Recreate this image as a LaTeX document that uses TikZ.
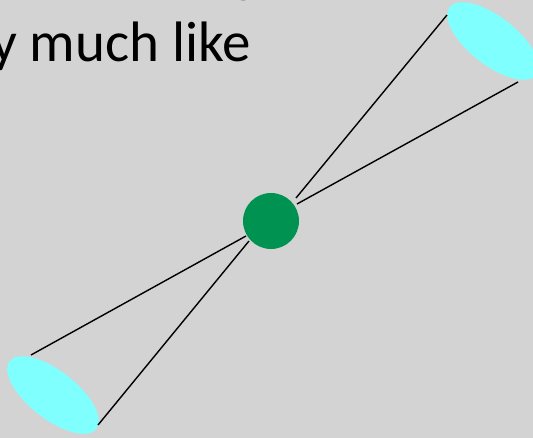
\documentclass[tikz,border=0pt]{standalone}
\usepackage{fontspec}
\setmainfont{Carlito}
\usetikzlibrary{shapes.geometric}
\definecolor{bg}{RGB}{211,211,211}
\definecolor{cyanfill}{RGB}{128,255,255}
\definecolor{hubgreen}{RGB}{0,146,80}
\tikzset{
  lens/.style={ellipse, fill=cyanfill, draw=none, minimum width=110pt, minimum height=48pt, inner sep=0pt, rotate=-38},
  hub/.style={circle, fill=hubgreen, draw=none, minimum size=56pt, inner sep=0pt},
  ray/.style={draw=black, line width=1.4pt},
  txt/.style={font=\fontsize{57}{68}\selectfont, inner sep=0pt, anchor=base west, text=black}
}
\begin{document}
\begin{tikzpicture}[x=1pt,y=-1pt]
\clip (0,0) rectangle (533,438);
\fill[bg] (0,0) rectangle (533,438);
\node[txt] (t0) at (235,-8) {y};
\node[txt] (t1) at (-9,62) {y much like};
\node[lens] (eTR) at (493,41) {};
\node[lens] (eBL) at (53,395) {};
\node[hub] (c) at (271,221) {};
\coordinate (a1) at (447,15);
\coordinate (a2) at (518,82);
\coordinate (b1) at (31,355);
\coordinate (b2) at (98,425);
\coordinate (h1) at (296,198);
\coordinate (h2) at (297,204);
\coordinate (h3) at (246,236);
\coordinate (h4) at (249,241);
\draw[ray] (a1) -- (h1);
\draw[ray] (a2) -- (h2);
\draw[ray] (b1) -- (h3);
\draw[ray] (b2) -- (h4);
\end{tikzpicture}
\end{document}
